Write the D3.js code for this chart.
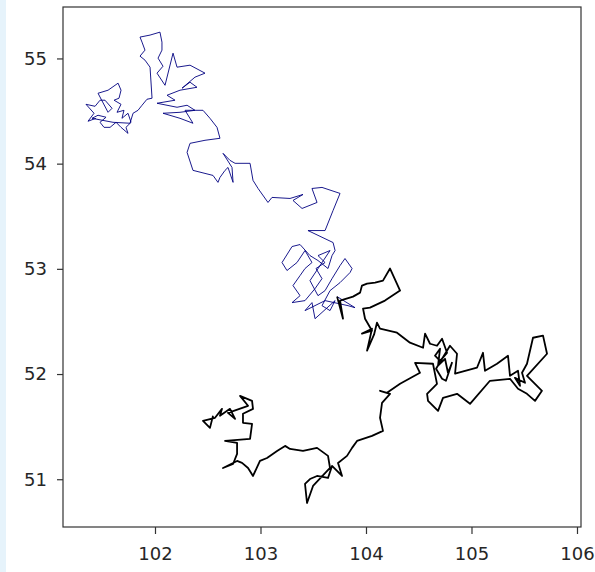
<!DOCTYPE html>
<html>
<head>
<meta charset="utf-8">
<script src="https://cdn.jsdelivr.net/npm/d3@7"></script>
<style>
  body { margin: 0; background: #fff; }
  svg { display: block; }
  .tick text { font-family: "DejaVu Sans", sans-serif; }
</style>
</head>
<body>
<div id="chart"></div>
<script>
// tick labels
var xTicks = [102, 103, 104, 105, 106];
var yTicks = [51, 52, 53, 54, 55];

// first part of the track (blue)
var blueLon = [101.441, 101.365, 101.422, 101.346, 101.432, 101.479, 101.526, 101.593, 101.555,
  101.460, 101.555, 101.650, 101.678,
  101.659, 101.612, 101.678, 101.640, 101.706, 101.687, 101.744, 101.773, 101.725, 101.744,
  101.678, 101.631, 101.574, 101.517, 101.479, 101.536, 101.460, 101.403, 101.602, 101.763,
  101.792, 101.839, 101.877, 101.924, 101.972, 101.953, 101.905, 101.858, 101.905, 101.877,
  101.858, 101.953, 102.047, 102.066, 102.066, 102.029, 102.076, 102.019, 102.095, 102.171,
  102.209, 102.332, 102.474, 102.379, 102.256, 102.332, 102.398, 102.237, 102.114, 102.190,
  102.019, 102.209, 102.304, 102.379, 102.237, 102.076, 102.237, 102.360, 102.285, 102.455,
  102.521, 102.588, 102.616, 102.474, 102.332, 102.304, 102.360, 102.550, 102.597, 102.616,
  102.664, 102.692, 102.740, 102.730, 102.645, 102.711, 102.759, 102.901, 102.929, 102.977,
  103.071, 103.109, 103.280, 103.403, 103.308, 103.394, 103.536, 103.488, 103.583, 103.754,
  103.688, 103.612, 103.450, 103.688, 103.707, 103.678, 103.640, 103.545, 103.469, 103.375,
  103.299, 103.204, 103.251, 103.346, 103.422, 103.488, 103.422,
  103.375, 103.308, 103.375, 103.299, 103.422, 103.517,
  103.583, 103.526, 103.612, 103.545, 103.659,
  103.469, 103.545, 103.612, 103.678, 103.754, 103.801, 103.868,
  103.849, 103.754, 103.659, 103.583, 103.659, 103.707,
  103.517, 103.488, 103.422, 103.612, 103.830, 103.896, 103.726];
var blueLat = [54.431, 54.403, 54.479, 54.564, 54.545, 54.603, 54.603, 54.526, 54.488,
  54.669, 54.698, 54.765, 54.698,
  54.622, 54.603, 54.564, 54.488, 54.507, 54.431, 54.479, 54.393, 54.345, 54.288,
  54.345, 54.393, 54.345, 54.345, 54.393, 54.441, 54.460, 54.431, 54.393, 54.384,
  54.479, 54.507, 54.555, 54.612, 54.622, 54.917, 54.984, 55.022, 55.079, 55.155,
  55.203, 55.222, 55.250, 55.155, 55.079, 55.003, 54.926, 54.860, 54.745, 55.050,
  54.917, 54.936, 54.860, 54.822, 54.717, 54.774, 54.726, 54.698, 54.650, 54.603,
  54.574, 54.536, 54.555, 54.507, 54.488, 54.479, 54.431, 54.384, 54.507, 54.507,
  54.431, 54.345, 54.241, 54.222, 54.193, 54.107, 53.936, 53.888, 53.822, 53.869,
  53.936, 53.964, 53.822, 53.964, 54.098, 54.031, 54.003, 54.003, 53.841, 53.764,
  53.631, 53.679, 53.669, 53.707, 53.650, 53.574, 53.631, 53.764, 53.774, 53.717,
  53.555, 53.364, 53.364, 53.250, 53.174, 53.126, 53.003, 53.079, 53.126, 53.231,
  53.212, 53.060, 52.984, 53.060, 53.174, 53.060, 53.003,
  52.936, 52.841, 52.745, 52.679, 52.698, 52.812,
  52.907, 53.003, 53.060, 53.126, 53.174,
  52.888, 52.745, 52.793, 52.907, 53.031, 53.098, 53.003,
  52.965, 52.869, 52.793, 52.650, 52.603, 52.698,
  52.526, 52.679, 52.603, 52.698, 52.650, 52.631, 52.736];

// second part of the track (black)
var blackLon = [103.726, 103.782, 103.754, 103.877, 103.944, 103.962, 104.010, 104.086, 104.161, 104.228,
  104.323, 104.180, 104.038, 103.972, 103.991, 104.057, 103.962, 104.057, 104.010, 104.076,
  104.104, 104.133, 104.294, 104.417, 104.541, 104.560, 104.607, 104.673,
  104.721, 104.768, 104.702,
  104.654, 104.702, 104.683, 104.749, 104.777, 104.815, 104.758,
  104.721, 104.664, 104.796, 104.863, 104.844, 105.052, 105.109,
  105.128, 105.242, 105.346, 105.365, 105.441, 105.460, 105.412, 105.507, 105.479,
  105.526, 105.583, 105.678, 105.716,
  105.526, 105.668, 105.602, 105.526, 105.441, 105.365, 105.175, 104.986, 104.863, 104.730,
  104.683, 104.588, 104.579, 104.673, 104.635, 104.465, 104.512, 104.323, 104.199, 104.133,
  104.228, 104.152, 104.133, 104.161, 104.057, 103.915, 103.868, 103.820, 103.735, 103.773,
  103.678, 103.640, 103.536, 103.469, 103.422, 103.441, 103.498, 103.659, 103.640, 103.536,
  103.403, 103.280, 103.233, 103.157, 103.062, 102.995, 102.929, 102.882, 102.825, 102.778,
  102.645, 102.740, 102.778, 102.778, 102.664, 102.901, 102.920, 102.834, 102.834, 102.929,
  102.920, 102.806, 102.882, 102.692, 102.759, 102.711, 102.616,
  102.635, 102.569, 102.455, 102.521, 102.550];
var blackLat = [52.736, 52.526, 52.698, 52.736, 52.774, 52.841, 52.860, 52.869, 52.888, 53.003,
  52.793, 52.698, 52.631, 52.622, 52.526, 52.412, 52.384, 52.431, 52.222, 52.374,
  52.488, 52.431, 52.393, 52.298, 52.250, 52.384, 52.288, 52.269,
  52.336, 52.202, 52.126,
  52.174, 52.241, 52.079, 52.145, 52.012, 52.107, 51.936,
  51.955, 52.050, 52.269, 52.193, 52.003, 52.060, 52.202,
  52.031, 52.098, 52.174, 51.983, 52.031, 51.888, 51.964, 51.917, 52.012,
  52.098, 52.345, 52.365, 52.193,
  51.983, 51.841, 51.745, 51.812, 51.860, 51.955, 51.936, 51.717, 51.812, 51.774,
  51.650, 51.745, 51.812, 51.907, 52.098, 52.107, 52.012, 51.907, 51.822, 51.841,
  51.812, 51.726, 51.584, 51.460, 51.412, 51.364, 51.298, 51.222, 51.155, 51.031,
  51.126, 51.012, 51.031, 51.002, 50.955, 50.774, 50.936, 51.107, 51.222, 51.298,
  51.269, 51.288, 51.317, 51.269, 51.202, 51.174, 51.031, 51.107, 51.155, 51.174,
  51.107, 51.145, 51.241, 51.345, 51.364, 51.383, 51.526, 51.536, 51.622, 51.669,
  51.745, 51.793, 51.698, 51.631, 51.574, 51.669, 51.603,
  51.669, 51.584, 51.555, 51.488, 51.603];

var W = 595, H = 572;
var margin = {top: 7, right: 14, bottom: 45, left: 63},
    width = W - margin.left - margin.right,
    height = H - margin.top - margin.bottom;

var svg = d3.select("#chart")
  .append("svg")
  .attr("width", W)
  .attr("height", H);

// pale strip on the left edge of the notebook cell
svg.append("rect")
  .attr("x", 0).attr("y", 0)
  .attr("width", 6).attr("height", H)
  .style("fill", "#e6f3fb");

var chart = svg.append("g")
  .attr("transform", "translate(" + margin.left + "," + margin.top + ")");

var x = d3.scaleLinear().domain([101.128, 106.038]).range([0, width]);
var y = d3.scaleLinear().domain([50.546, 55.489]).range([height, 0]);

function toPoints(lon, lat) {
  return lon.map(function (d, i) { return [d, lat[i]]; });
}

var line = d3.line()
  .x(function (d) { return x(d[0]); })
  .y(function (d) { return y(d[1]); });

chart.append("path")
  .datum(toPoints(blueLon, blueLat))
  .attr("d", line)
  .style("fill", "none")
  .style("stroke", "#000080")
  .style("stroke-width", 0.9)
  .style("stroke-linejoin", "round");

chart.append("path")
  .datum(toPoints(blackLon, blackLat))
  .attr("d", line)
  .style("fill", "none")
  .style("stroke", "#000")
  .style("stroke-width", 1.8)
  .style("stroke-linejoin", "round");

// axes
var xAxis = chart.append("g")
  .attr("transform", "translate(0," + height + ")")
  .call(d3.axisBottom(x).tickValues(xTicks).tickSize(7).tickPadding(13).tickFormat(d3.format("d")));
var yAxis = chart.append("g")
  .call(d3.axisLeft(y).tickValues(yTicks).tickSize(6).tickPadding(10).tickFormat(d3.format("d")));

[xAxis, yAxis].forEach(function (g) {
  g.select(".domain").remove();
  g.selectAll(".tick line").style("stroke", "#333").style("stroke-width", 1.2);
  g.selectAll(".tick text").style("fill", "#262626").style("font-size", "18px");
});

// frame
chart.append("rect")
  .attr("x", 0).attr("y", 0)
  .attr("width", width).attr("height", height)
  .style("fill", "none")
  .style("stroke", "#333")
  .style("stroke-width", 1.2);
</script>
</body>
</html>
